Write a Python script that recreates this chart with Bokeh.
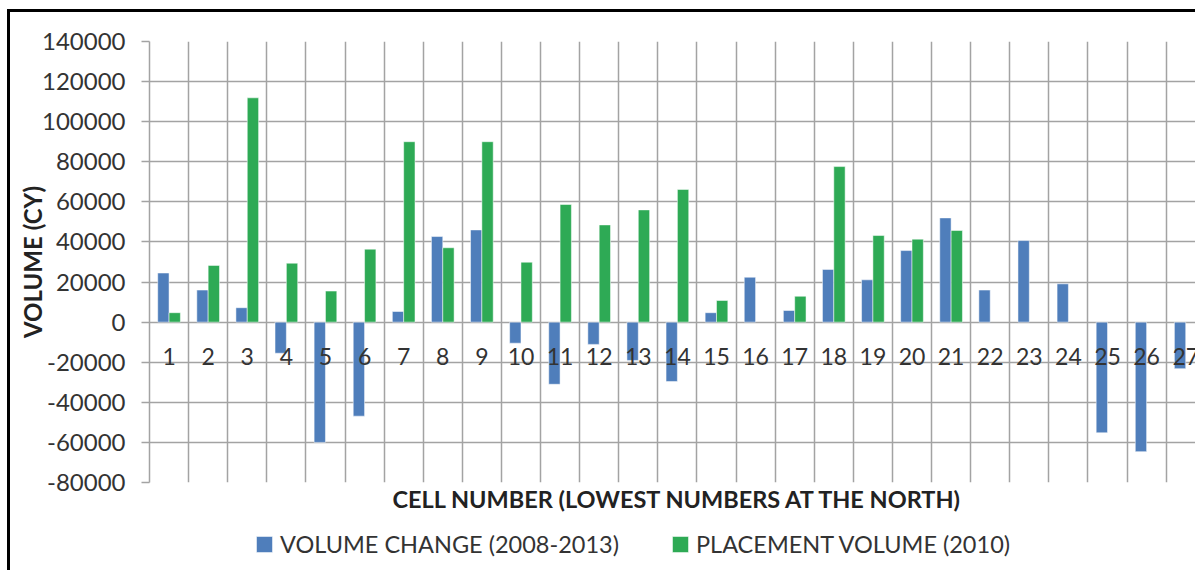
import math
from bokeh.plotting import figure
from bokeh.layouts import column
from bokeh.models import (Range1d, FixedTicker, Legend, LegendItem, ColumnDataSource,
                          NumeralTickFormatter, Title)
from bokeh.transform import dodge
from bokeh.core.properties import value
from bokeh.embed import file_html
from bokeh.resources import INLINE

nan = float("nan")

# ---- data ----
cells = list(range(1, 28))
cell_labels = [str(c) for c in cells]
volume_change = [24500, 16000, 7200, -15500, -60000, -46900, 5300, 42700, 46000,
                 -10500, -31000, -11100, -19100, -29600, 4700, 22400, 5800, 26300,
                 21100, 35700, 52000, 16000, 40700, 19100, -55200, -64600, -23200]
placement_volume = [4700, 28300, 111900, 29400, 15500, 36400, 90000, 37100, 90000,
                    29900, 58700, 48500, 56000, 66200, 10800, nan, 12900, 77600,
                    43200, 41400, 45700, nan, nan, nan, nan, nan, nan]
y_ticks = [-80000, -60000, -40000, -20000, 0, 20000, 40000, 60000, 80000,
           100000, 120000, 140000]
series_names = ["VOLUME CHANGE (2008-2013)", "PLACEMENT VOLUME (2010)"]
x_title = "CELL NUMBER (LOWEST NUMBERS AT THE NORTH)"
y_title = "VOLUME (CY)"

BLUE = "#4F7EBB"
GREEN = "#2EAA55"
GRID = "#A3A3A3"
TEXT = "#333333"
TITLE_C = "#222222"
FONT = "Lato"

source = ColumnDataSource(dict(cell=cells, label=cell_labels,
                               change=volume_change, placement=placement_volume))

p = figure(width=1185, height=508,
           x_range=Range1d(0.5, 27.25), y_range=Range1d(y_ticks[0], y_ticks[-1]),
           output_backend="svg", toolbar_location=None,
           min_border_left=139, min_border_top=29, min_border_right=0,
           min_border_bottom=38, outline_line_color=None)

# grid
p.xgrid.ticker = FixedTicker(ticks=[c - 0.5 for c in cells] + [cells[-1] + 0.5])
p.ygrid.ticker = FixedTicker(ticks=y_ticks)
for g in (p.xgrid, p.ygrid):
    g.grid_line_color = GRID
    g.grid_line_width = 1.5

# bars
bar_style = dict(width=0.29, source=source, line_color="white", line_alpha=0.5, line_width=1)
r1 = p.vbar(x=dodge("cell", -0.145), top="change", bottom=0, fill_color=BLUE, **bar_style)
r2 = p.vbar(x=dodge("cell", 0.145), top="placement", bottom=0, fill_color=GREEN, **bar_style)

# category labels at the zero line
p.text(x="cell", y=0, text="label", source=source, text_align="center",
       text_baseline="middle", y_offset=34, text_font=value(FONT),
       text_font_size="23px", text_color=TEXT)

# y axis
ya = p.yaxis[0]
ya.ticker = FixedTicker(ticks=y_ticks)
ya.formatter = NumeralTickFormatter(format="0")
ya.major_label_text_font = FONT
ya.major_label_text_font_size = "24px"
ya.major_label_text_color = TEXT
ya.major_tick_out = 8
ya.major_tick_in = 0
ya.major_tick_line_color = GRID
ya.major_tick_line_width = 1.5
ya.minor_tick_line_color = None
ya.axis_line_color = GRID
ya.axis_line_width = 1.5
ya.major_label_standoff = 16
ya.axis_label = y_title
ya.axis_label_text_font = FONT
ya.axis_label_text_font_style = "bold"
ya.axis_label_text_font_size = "24px"
ya.axis_label_text_color = TITLE_C
ya.axis_label_standoff = -8

# x axis hidden; category labels drawn at zero line, title below
p.xaxis.visible = False
p.add_layout(Title(text=x_title, align="left", offset=243, text_font=FONT,
                   text_font_style="bold", text_font_size="23.5px",
                   text_color=TITLE_C, standoff=0), "below")

# legend strip below the chart (its renderers use the same data, scrolled out of view)
p2 = figure(width=1185, height=50, x_range=Range1d(-3, -2), y_range=Range1d(0, 1),
            output_backend="svg", toolbar_location=None, min_border=0,
            outline_line_color=None)
p2.axis.visible = False
p2.grid.visible = False
l1 = p2.vbar(x="cell", top="change", fill_color=BLUE, **bar_style)
l2 = p2.vbar(x="cell", top="placement", fill_color=GREEN, **bar_style)
legend = Legend(items=[LegendItem(label=series_names[0], renderers=[l1]),
                       LegendItem(label=series_names[1], renderers=[l2])],
                orientation="horizontal", location=(105, 12),
                label_text_font=FONT, label_text_font_size="23.5px",
                label_text_color=TEXT, glyph_width=20, glyph_height=20,
                label_standoff=6, spacing=51, border_line_color=None,
                background_fill_alpha=0, padding=0, margin=0)
p2.add_layout(legend, "center")

layout = column(p, p2, spacing=0,
                styles={"margin-left": "7px", "margin-top": "9px",
                        "border-left": "3px solid black", "border-top": "3px solid black"})

open("out.html", "w").write(file_html(layout, INLINE))
